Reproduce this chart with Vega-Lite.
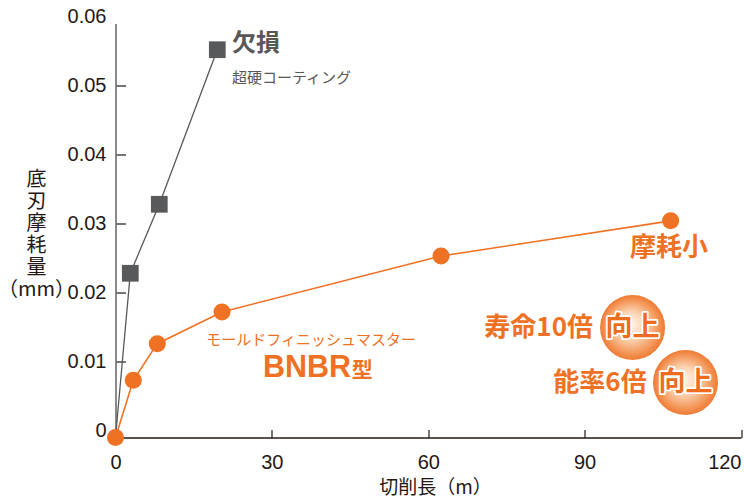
{
  "$schema": "https://vega.github.io/schema/vega-lite/v6.json",
  "width": 625.5,
  "height": 414,
  "autosize": {"type": "none"},
  "padding": {"left": 115.5, "top": 23.5, "right": 3, "bottom": 64.5},
  "background": "white",
  "config": {"view": {"stroke": null}, "font": "Noto Sans CJK JP"},
  "datasets": {
    "wear": [
      {"tool": "超硬コーティング", "length": 0, "wear": 0},
      {"tool": "超硬コーティング", "length": 2.84, "wear": 0.0238},
      {"tool": "超硬コーティング", "length": 8.4, "wear": 0.0338},
      {"tool": "超硬コーティング", "length": 19.53, "wear": 0.0562},
      {"tool": "BNBR型", "length": 0, "wear": 0},
      {"tool": "BNBR型", "length": 3.41, "wear": 0.0083},
      {"tool": "BNBR型", "length": 8.02, "wear": 0.0136},
      {"tool": "BNBR型", "length": 20.43, "wear": 0.0182},
      {"tool": "BNBR型", "length": 62.45, "wear": 0.0263},
      {"tool": "BNBR型", "length": 106.5, "wear": 0.0314}
    ],
    "notes": [
      {"role": "grayBig", "label": "欠損", "length": 22.35, "wear": 0.05703},
      {"role": "graySmall", "label": "超硬コーティング", "length": 22.35, "wear": 0.05217},
      {"role": "orangeSmall", "label": "モールドフィニッシュマスター", "length": 37.51, "wear": 0.01406},
      {"role": "latin", "label": "BNBR", "length": 28.3, "wear": 0.00881},
      {"role": "kata", "label": "型", "length": 45.3, "wear": 0.00881},
      {"role": "orangeBig", "label": "摩耗小", "length": 98.71, "wear": 0.02746},
      {"role": "claim", "label": "寿命10倍", "length": 91.61, "wear": 0.01587},
      {"role": "claim", "label": "能率6倍", "length": 101.9, "wear": 0.0079},
      {"role": "badge", "label": "向上", "length": 99.2, "wear": 0.01594},
      {"role": "badge", "label": "向上", "length": 109.35, "wear": 0.00797}
    ]
  },
  "encoding": {
    "x": {
      "field": "length", "type": "quantitative",
      "scale": {"domain": [0, 120], "nice": false, "zero": false},
      "axis": {
        "values": [0, 30, 60, 90, 120],
        "grid": false,
        "title": "切削長（m）",
        "titleFont": "Noto Sans CJK JP",
        "titleFontSize": 19,
        "titleFontWeight": "normal",
        "titleColor": "#231815",
        "titleX": 319.5,
        "titleY": 49.5,
        "titleBaseline": "middle",
        "labelFont": "Liberation Sans",
        "labelFontSize": 20,
        "labelColor": "#231815",
        "labelPadding": 23,
        "labelAlign": {"condition": {"test": "datum.value == 120", "value": "right"}, "value": "center"},
        "tickSize": -8,
        "tickColor": "#231815",
        "tickWidth": 1.2,
        "domainColor": "#231815",
        "domainWidth": 1.3
      }
    },
    "y": {
      "field": "wear", "type": "quantitative",
      "scale": {"domain": [0, 0.06], "nice": false, "zero": false},
      "axis": {
        "values": [0, 0.01, 0.02, 0.03, 0.04, 0.05, 0.06],
        "labelExpr": "datum.value == 0 ? '0' : format(datum.value, '.2f')",
        "grid": false,
        "title": ["底", "刃", "摩", "耗", "量", "（mm）"],
        "titleAngle": 0,
        "titleAlign": "center",
        "titleBaseline": "top",
        "titleX": -79.5,
        "titleY": 145.5,
        "titleFont": "Noto Sans CJK JP",
        "titleFontSize": 20,
        "titleFontWeight": "normal",
        "titleLineHeight": 22,
        "titleColor": "#231815",
        "labelFont": "Liberation Sans",
        "labelFontSize": 20,
        "labelColor": "#231815",
        "labelPadding": 19.5,
        "tickSize": -10,
        "tickOffset": -7,
        "tickOpacity": {"condition": {"test": "datum.value == 0 || datum.value == 0.06", "value": 0}, "value": 1},
        "tickColor": "#231815",
        "tickWidth": 1.2,
        "domainColor": "#6d6d6d",
        "domainWidth": 1.6
      }
    }
  },
  "layer": [
    {
      "data": {"name": "wear"},
      "transform": [{"filter": "datum.tool == '超硬コーティング'"}],
      "mark": {"type": "line", "color": "#595757", "strokeWidth": 1.3}
    },
    {
      "data": {"name": "wear"},
      "transform": [{"filter": "datum.tool == '超硬コーティング' && datum.length > 0"}],
      "mark": {"type": "point", "shape": "square", "filled": true, "size": 280, "color": "#58595b", "opacity": 1}
    },
    {
      "data": {"name": "wear"},
      "transform": [{"filter": "datum.tool == 'BNBR型'"}],
      "mark": {"type": "line", "color": "#ef7124", "strokeWidth": 1.6}
    },
    {
      "data": {"name": "wear"},
      "transform": [{"filter": "datum.tool == 'BNBR型'"}],
      "mark": {"type": "point", "shape": "circle", "filled": true, "size": 290, "color": "#ef7124", "opacity": 1}
    },
    {
      "data": {"name": "notes"},
      "transform": [{"filter": "datum.role == 'grayBig'"}],
      "mark": {"type": "text", "align": "left", "baseline": "middle", "font": "Noto Sans CJK JP", "fontSize": 24, "fontWeight": "bold", "color": "#595757"},
      "encoding": {"text": {"field": "label"}}
    },
    {
      "data": {"name": "notes"},
      "transform": [{"filter": "datum.role == 'graySmall'"}],
      "mark": {"type": "text", "align": "left", "baseline": "middle", "font": "Noto Sans CJK JP", "fontSize": 15, "color": "#595757"},
      "encoding": {"text": {"field": "label"}}
    },
    {
      "data": {"name": "notes"},
      "transform": [{"filter": "datum.role == 'orangeSmall'"}],
      "mark": {"type": "text", "align": "center", "baseline": "middle", "font": "Noto Sans CJK JP", "fontSize": 15, "color": "#ef7124"},
      "encoding": {"text": {"field": "label"}}
    },
    {
      "data": {"name": "notes"},
      "transform": [{"filter": "datum.role == 'latin'"}],
      "mark": {"type": "text", "align": "left", "baseline": "alphabetic", "font": "Liberation Sans", "fontSize": 30.5, "fontWeight": "bold", "color": "#ef7124"},
      "encoding": {"text": {"field": "label"}}
    },
    {
      "data": {"name": "notes"},
      "transform": [{"filter": "datum.role == 'kata'"}],
      "mark": {"type": "text", "align": "left", "baseline": "alphabetic", "font": "Noto Sans CJK JP", "fontSize": 21, "fontWeight": "bold", "color": "#ef7124"},
      "encoding": {"text": {"field": "label"}}
    },
    {
      "data": {"name": "notes"},
      "transform": [{"filter": "datum.role == 'orangeBig'"}],
      "mark": {"type": "text", "align": "left", "baseline": "middle", "font": "Noto Sans CJK JP", "fontSize": 26, "fontWeight": "bold", "color": "#ef7124"},
      "encoding": {"text": {"field": "label"}}
    },
    {
      "data": {"name": "notes"},
      "transform": [{"filter": "datum.role == 'claim'"}],
      "mark": {"type": "text", "align": "right", "baseline": "middle", "font": "Noto Sans CJK JP", "fontSize": 26, "fontWeight": "bold", "color": "#ef7124"},
      "encoding": {"text": {"field": "label"}}
    },
    {
      "data": {"name": "notes"},
      "transform": [{"filter": "datum.role == 'badge'"}],
      "mark": {
        "type": "point", "shape": "circle", "size": 4225, "opacity": 1, "strokeWidth": 0,
        "fill": {
          "gradient": "radial", "x1": 0.45, "y1": 0.45, "r1": 0, "x2": 0.5, "y2": 0.5, "r2": 0.5,
          "stops": [
            {"offset": 0, "color": "#fff8f2"},
            {"offset": 0.4, "color": "#fcd7b8"},
            {"offset": 0.8, "color": "#f4995b"},
            {"offset": 1, "color": "#ee7a33"}
          ]
        }
      }
    },
    {
      "data": {"name": "notes"},
      "transform": [{"filter": "datum.role == 'badge'"}],
      "mark": {"type": "text", "align": "center", "baseline": "middle", "font": "Noto Sans CJK JP", "fontSize": 27, "fontWeight": "bold", "color": "#ffffff", "stroke": "#ffffff", "strokeWidth": 3.5, "strokeJoin": "round"},
      "encoding": {"text": {"field": "label"}}
    },
    {
      "data": {"name": "notes"},
      "transform": [{"filter": "datum.role == 'badge'"}],
      "mark": {"type": "text", "align": "center", "baseline": "middle", "font": "Noto Sans CJK JP", "fontSize": 27, "fontWeight": "bold", "color": "#ee6c1e"},
      "encoding": {"text": {"field": "label"}}
    }
  ]
}
